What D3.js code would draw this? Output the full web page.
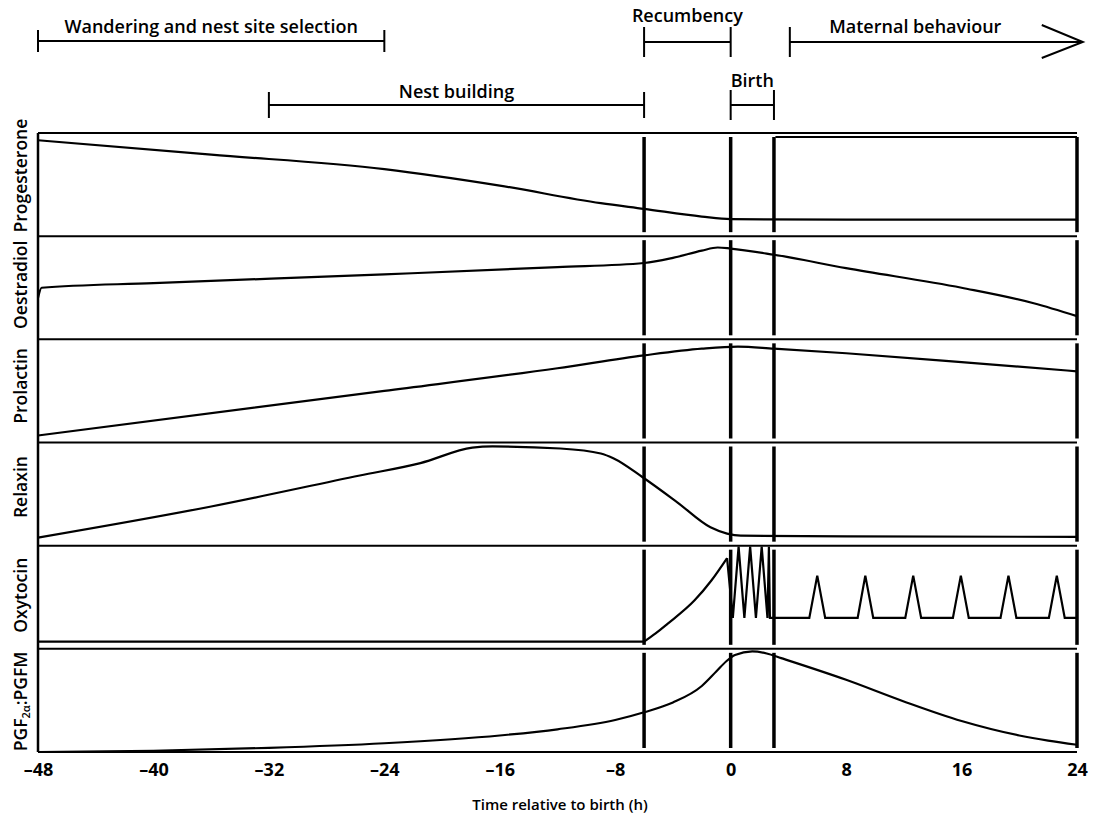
<!DOCTYPE html>
<html><head><meta charset="utf-8">
<script src="https://cdn.jsdelivr.net/npm/d3@7"></script>
<style>
body{margin:0;background:#fff}
svg{display:block}
text{font-family:"Open Sans","Noto Sans",sans-serif;fill:#000}
</style>
</head><body>
<svg id="chart" width="1095" height="818"></svg>
<script>
// ---------- data ----------
const hormones = ["Progesterone","Oestradiol","Prolactin","Relaxin","Oxytocin","PGF2α:PGFM"];
const xTicks = [-48,-40,-32,-24,-16,-8,0,8,16,24];
const eventTimes = [-6,0,3,24];

// [time (h), relative level 0..1 within panel]
const progesterone = [[-48,0.93],[-36,0.79],[-24,0.65],[-16,0.49],[-9,0.32],[-6,0.265],[-2,0.19],[0,0.165],[8,0.16],[24,0.16]];
const oestradiol = [[-48,0.40],[-47.75,0.50],[-40,0.545],[-24,0.63],[-12,0.70],[-6,0.74],[-4,0.79],[-2,0.86],[-0.9,0.89],[0,0.88],[3,0.82],[8,0.69],[16,0.50],[21,0.35],[24,0.225]];
const prolactin = [[-48,0.068],[-24,0.50],[-12,0.72],[-6,0.845],[-2,0.91],[0.5,0.93],[3,0.91],[8,0.865],[16,0.78],[24,0.69]];
const relaxin = [[-48,0.078],[-36,0.38],[-25.7,0.68],[-21.5,0.80],[-17.9,0.95],[-16.5,0.962],[-11.8,0.942],[-9,0.893],[-8.1,0.845],[-6.1,0.663],[-3.7,0.42],[-1.4,0.178],[-0.25,0.117],[0.7,0.097],[8,0.09],[24,0.085]];
const oxytocinBase = [[-48,0.07],[-6,0.07]];
const oxytocinRise = [[-6,0.07],[-5.2,0.15],[-4.4,0.24],[-2.5,0.47],[-1.35,0.66],[-0.25,0.88]];
const oxytocinPulses = [[-0.25,0.88],[0.15,0.30],[0.55,0.99],[0.95,0.30],[1.35,0.99],[1.75,0.30],[2.15,0.99],[2.55,0.30],[2.65,0.99],[2.72,0.30],
  [5.45,0.30],[6.0,0.71],[6.55,0.30],[8.8,0.30],[9.33,0.71],[9.88,0.30],[12.1,0.30],[12.65,0.71],[13.2,0.30],
  [15.4,0.30],[15.95,0.71],[16.5,0.30],[18.7,0.30],[19.25,0.71],[19.8,0.30],[22.05,0.30],[22.6,0.71],[23.15,0.30],[24,0.30]];
const pgf = [[-48,0.0],[-40,0.012],[-32,0.04],[-24,0.085],[-16,0.16],[-12,0.22],[-8,0.31],[-6,0.385],[-4,0.48],[-2,0.64],[-1,0.78],[-0.3,0.88],[0.3,0.94],[1.5,0.975],[2.5,0.955],[3.5,0.91],[8,0.70],[12,0.49],[16,0.30],[20,0.16],[22,0.11],[24,0.07]];

const phaseLabels = ["Wandering and nest site selection","Nest building","Recumbency","Birth","Maternal behaviour"];
const phaseStart = [-48,-32,-6,0,4.1];
const phaseEnd = [-24,-6,0,3,24.4];

// ---------- layout ----------
const svg = d3.select("#chart");
const x = d3.scaleLinear().domain([-48,24]).range([38,1077]);
const band = d3.scaleBand().domain(hormones).range([133,752]).paddingInner(0);
const bw = band.bandwidth();
const yFor = h => d3.scaleLinear().domain([0,1]).range([band(h)+bw, band(h)]);
const labelShift = [-9,-3,-5,-7,-2,1];

// phase bracket layout (row line y, label baseline, tick half-height)
const phaseLineY = [41,105,42,105,42];
const phaseTextY = [33,98,22,87,33];
const phaseTick = [11,13,15,15,15];
const phaseArrow = [false,false,false,false,true];

const g = svg.append("g");

// panel frames
g.append("line").attr("x1",x(-48)).attr("x2",x(24)).attr("y1",133).attr("y2",133)
  .attr("stroke","#000").attr("stroke-width",2);
hormones.forEach(h=>{
  const yb = band(h)+bw;
  g.append("line").attr("x1",x(-48)).attr("x2",x(24)).attr("y1",yb).attr("y2",yb)
    .attr("stroke","#000").attr("stroke-width",2);
});
g.append("line").attr("x1",x(-48)).attr("x2",x(-48)).attr("y1",133).attr("y2",752)
  .attr("stroke","#000").attr("stroke-width",2.5);
// inner box edge in progesterone panel
g.append("line").attr("x1",x(3.1)).attr("x2",x(24)).attr("y1",137).attr("y2",137)
  .attr("stroke","#000").attr("stroke-width",2);

// vertical event lines, broken at panel edges
hormones.forEach(h=>{
  eventTimes.forEach(t=>{
    g.append("line").attr("x1",x(t)).attr("x2",x(t))
      .attr("y1",band(h)+4).attr("y2",band(h)+bw-4)
      .attr("stroke","#000").attr("stroke-width",3.5);
  });
});

// curves
const series = [
  ["Progesterone",progesterone,d3.curveMonotoneX],
  ["Oestradiol",oestradiol,d3.curveMonotoneX],
  ["Prolactin",prolactin,d3.curveMonotoneX],
  ["Relaxin",relaxin,d3.curveMonotoneX],
  ["Oxytocin",oxytocinBase,d3.curveLinear],
  ["Oxytocin",oxytocinRise,d3.curveMonotoneX],
  ["Oxytocin",oxytocinPulses,d3.curveLinear],
  ["PGF2α:PGFM",pgf,d3.curveMonotoneX]
];
series.forEach(([h,data,curve])=>{
  const y = yFor(h);
  const line = d3.line().x(d=>x(d[0])).y(d=>y(d[1])).curve(curve);
  g.append("path").attr("d",line(data)).attr("fill","none")
    .attr("stroke","#000").attr("stroke-width",2.2).attr("stroke-linejoin","miter");
});

// panel labels
hormones.forEach((h,i)=>{
  const cy = band(h)+bw/2 + labelShift[i];
  const t = g.append("text").attr("transform",`translate(27,${cy}) rotate(-90)`)
    .attr("text-anchor","middle").attr("font-size",17.5).attr("font-weight",600);
  if(h.startsWith("PGF")){
    t.append("tspan").text("PGF");
    t.append("tspan").text("2α").attr("font-size",11).attr("dy",3);
    t.append("tspan").text(":PGFM").attr("dy",-3);
  } else t.text(h);
});

// x axis
const axis = d3.axisBottom(x).tickValues(xTicks).tickSize(0).tickPadding(11)
  .tickFormat(d=> d<0 ? "\u2013"+Math.abs(d) : String(d));
const ax = g.append("g").attr("transform","translate(0,752)").call(axis);
ax.select(".domain").remove();
ax.selectAll("text").attr("font-size",18).attr("font-weight",700)
  .attr("font-family","\"Open Sans\",sans-serif");

g.append("text").attr("x",560).attr("y",810).attr("text-anchor","middle")
  .attr("font-size",15).attr("font-weight",600).text("Time relative to birth (h)");

// phase brackets
phaseLabels.forEach((lab,i)=>{
  const x0 = x(phaseStart[i]), x1 = x(phaseEnd[i]), yl = phaseLineY[i], th = phaseTick[i];
  g.append("line").attr("x1",x0).attr("x2",x1).attr("y1",yl).attr("y2",yl)
    .attr("stroke","#000").attr("stroke-width",2);
  g.append("line").attr("x1",x0).attr("x2",x0).attr("y1",yl-th).attr("y2",yl+th)
    .attr("stroke","#000").attr("stroke-width",2);
  if(phaseArrow[i]){
    g.append("path").attr("d",`M${x1-41},${yl-17}L${x1},${yl}L${x1-41},${yl+16}`)
      .attr("fill","none").attr("stroke","#000").attr("stroke-width",2);
  } else {
    g.append("line").attr("x1",x1).attr("x2",x1).attr("y1",yl-th).attr("y2",yl+th)
      .attr("stroke","#000").attr("stroke-width",2);
  }
  const cx = phaseArrow[i] ? (x0+x1-42)/2 : (x0+x1)/2;
  g.append("text").attr("x",cx).attr("y",phaseTextY[i]).attr("text-anchor","middle")
    .attr("font-size",18).attr("font-weight",600).text(lab);
});
</script>
</body></html>
